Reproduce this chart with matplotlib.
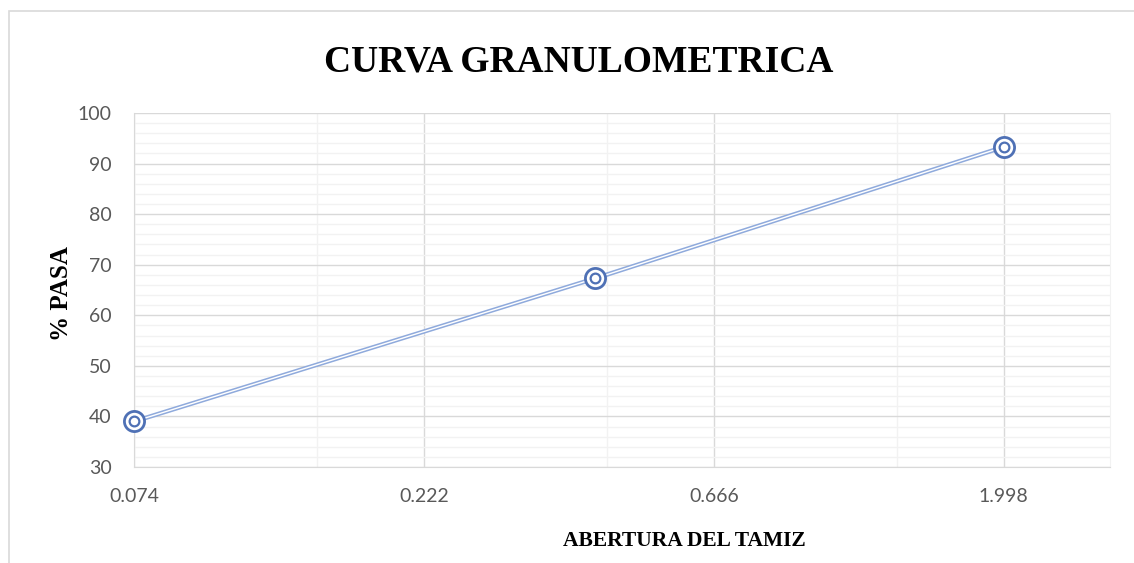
import matplotlib
matplotlib.use("Agg")
import matplotlib.pyplot as plt
from matplotlib.ticker import FixedLocator, FixedFormatter, MultipleLocator, NullFormatter
from matplotlib.patches import Rectangle

# Data
abertura = [0.074, 0.425, 2.0]
pasa = [39.0, 67.3, 93.3]
xtick_vals = [0.074, 0.222, 0.666, 1.998]
xtick_labels = ["0.074", "0.222", "0.666", "1.998"]
xminor_vals = [0.148, 0.444, 1.332]

W, H = 1134, 563
fig = plt.figure(figsize=(W / 100, H / 100), dpi=100)
fig.patch.set_facecolor("white")

# outer chart frame (extends past right and bottom edges)
fig.patches.append(Rectangle((8.5 / W, -0.05), 1.1, 1.05 - 10.5 / H,
                             transform=fig.transFigure, fill=False,
                             edgecolor="#D9D9D9", linewidth=1.2))

L, R, T, B = 134, 1110, 113, 467
ax = fig.add_axes([L / W, (H - B) / H, (R - L) / W, (B - T) / H])
ax.set_xscale("log", base=3)
ax.set_xlim(0.074, 2.99)
ax.set_ylim(30, 100)

ax.xaxis.set_major_locator(FixedLocator(xtick_vals))
ax.xaxis.set_major_formatter(FixedFormatter(xtick_labels))
ax.xaxis.set_minor_locator(FixedLocator(xminor_vals))
ax.xaxis.set_minor_formatter(NullFormatter())
ax.yaxis.set_major_locator(MultipleLocator(10))
ax.yaxis.set_minor_locator(MultipleLocator(2))

ax.grid(which="major", color="#D9D9D9", linewidth=1.0)
ax.grid(which="minor", color="#F2F2F2", linewidth=1.0)
ax.set_axisbelow(True)

ax.spines["top"].set_visible(False)
ax.spines["right"].set_color("#F2F2F2")
ax.spines["left"].set_color("#D9D9D9")
ax.spines["bottom"].set_color("#D9D9D9")
ax.tick_params(which="both", length=0)
ax.tick_params(axis="both", labelsize=14, labelcolor="#595959")
ax.tick_params(axis="x", pad=15)
ax.tick_params(axis="y", pad=16)
for lab in ax.get_xticklabels() + ax.get_yticklabels():
    lab.set_family("Lato")

# double line
ax.plot(abertura, pasa, color="#8FAADC", linewidth=3.2, solid_capstyle="butt", zorder=3, clip_on=False)
ax.plot(abertura, pasa, color="white", linewidth=1.0, solid_capstyle="butt", zorder=4, clip_on=False)
# target markers
ax.plot(abertura, pasa, linestyle="none", marker="o", markersize=14.5, markerfacecolor="white",
        markeredgecolor="#4F71B5", markeredgewidth=2.0, zorder=5, clip_on=False)
ax.plot(abertura, pasa, linestyle="none", marker="o", markersize=7, markerfacecolor="white",
        markeredgecolor="#4F71B5", markeredgewidth=1.6, zorder=6, clip_on=False)

fig.text(579 / W, 1 - 62 / H, "CURVA GRANULOMETRICA", ha="center", va="center",
         fontsize=27, fontweight="bold", family="Liberation Serif", color="black")
fig.text(62 / W, 1 - 294 / H, "% PASA", ha="center", va="center", rotation=90,
         fontsize=18, fontweight="bold", family="Liberation Serif", color="black")
fig.text(684 / W, 1 - 541 / H, "ABERTURA DEL TAMIZ", ha="center", va="center",
         fontsize=15.5, fontweight="bold", family="Liberation Serif", color="black")

fig.savefig("out.png", dpi=100)
